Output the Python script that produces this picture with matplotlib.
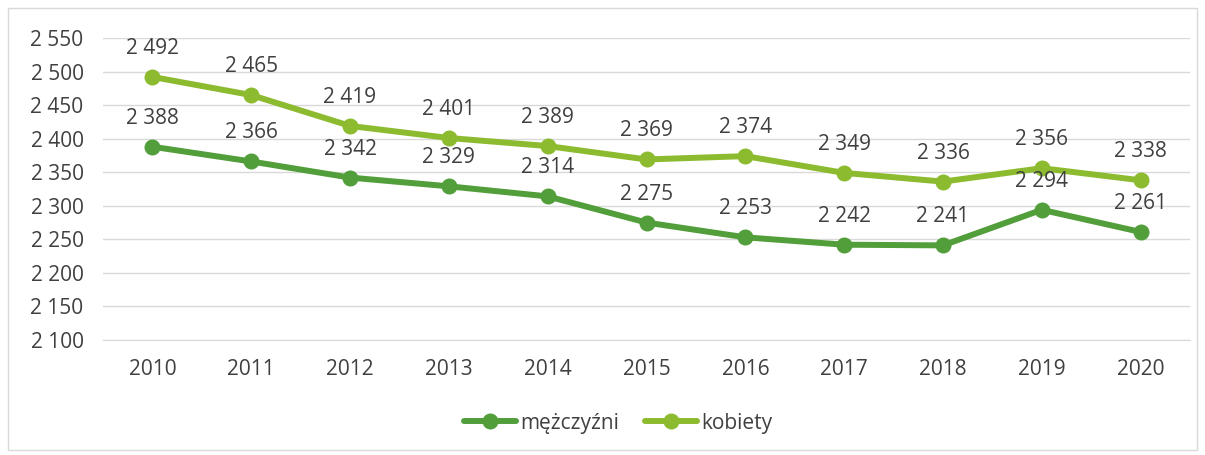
import matplotlib
matplotlib.use("Agg")
import matplotlib.pyplot as plt
from matplotlib.patches import Rectangle

years = [2010, 2011, 2012, 2013, 2014, 2015, 2016, 2017, 2018, 2019, 2020]
men = [2388, 2366, 2342, 2329, 2314, 2275, 2253, 2242, 2241, 2294, 2261]
women = [2492, 2465, 2419, 2401, 2389, 2369, 2374, 2349, 2336, 2356, 2338]
yticks = [2100, 2150, 2200, 2250, 2300, 2350, 2400, 2450, 2500, 2550]

def fmt(v):
    return f"{v:,}".replace(",", " ")

plt.rcParams['font.family'] = ['Open Sans', 'DejaVu Sans']
W, H = 1205, 455
fig = plt.figure(figsize=(W / 100, H / 100), dpi=100)
fig.patches.append(Rectangle((8 / W, 5 / H), 1189 / W, 442 / H, transform=fig.transFigure,
                             fill=False, edgecolor='#D9D9D9', linewidth=1))
ax = fig.add_axes([103 / W, 1 - 340 / H, 1087 / W, 302 / H])

c_men = '#519E3A'
c_wom = '#8CBB2F'
txt = '#404040'
fs = 15
x = list(range(len(years)))
ax.plot(x, men, color=c_men, lw=4.3, marker='o', ms=10.5, label='mężczyźni', solid_capstyle='round', zorder=3)
ax.plot(x, women, color=c_wom, lw=4.3, marker='o', ms=10.5, label='kobiety', solid_capstyle='round', zorder=3)
for xi, v in zip(x, men):
    ax.annotate(fmt(v), (xi, v), xytext=(0, 13), textcoords='offset points', ha='center', va='bottom',
                fontsize=fs, color=txt, zorder=4)
for xi, v in zip(x, women):
    ax.annotate(fmt(v), (xi, v), xytext=(0, 13), textcoords='offset points', ha='center', va='bottom',
                fontsize=fs, color=txt, zorder=4)

ax.set_xlim(-0.5, len(years) - 0.5)
ax.set_ylim(2100, 2550)
ax.set_yticks(yticks)
ax.set_yticklabels([fmt(v) for v in yticks], fontsize=fs, color=txt)
ax.set_xticks(x)
ax.set_xticklabels([str(y) for y in years], fontsize=fs, color=txt)
ax.tick_params(axis='y', length=0, pad=14)
ax.tick_params(axis='x', length=0, pad=14)
ax.grid(axis='y', color='#D9D9D9', lw=1)
ax.set_axisbelow(True)
for s in ['top', 'right', 'left']:
    ax.spines[s].set_visible(False)
ax.spines['bottom'].set_color('#D9D9D9')

leg = fig.legend(loc='center', bbox_to_anchor=(0.513, 1 - 423 / H), ncol=2, frameon=False,
                 fontsize=fs, handlelength=2.5, columnspacing=1.2, handletextpad=0.2)
for t in leg.get_texts():
    t.set_color(txt)

fig.savefig('out.png', dpi=100)
